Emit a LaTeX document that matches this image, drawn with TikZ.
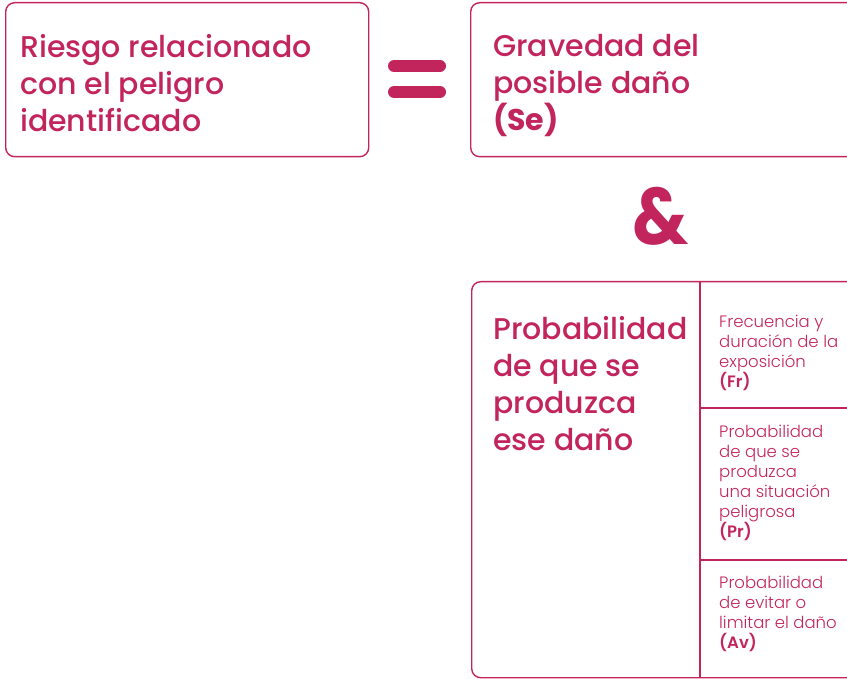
\documentclass[tikz,border=0pt]{standalone}
\usepackage{fontspec}
\setmainfont{Poppins}[UprightFont=* Medium, BoldFont=* Bold]
\newfontfamily\lightfont{Poppins}[UprightFont=* Light, BoldFont=* SemiBold]
\definecolor{crim}{HTML}{C2255C}
\tikzset{
  boxframe/.style={draw=crim, line width=1.4pt, rounded corners=9pt, inner sep=0pt, anchor=north west},
  bigtext/.style={text=crim, font=\fontsize{30}{37}\selectfont, align=left, anchor=north west, inner sep=0pt},
  smalltext/.style={text=crim, font=\lightfont\fontsize{16.5}{20}\selectfont, align=left, anchor=north west, inner sep=0pt},
  rule/.style={draw=crim, line width=1.4pt},
  bar/.style={draw=crim, line width=12pt, line cap=round}
}
\begin{document}
\begin{tikzpicture}[x=1pt,y=-1pt]
\useasboundingbox (0,0) rectangle (847,679);
\clip (0,0) rectangle (847,679);
% boxes
\node[boxframe, minimum width=363pt, minimum height=154pt] (riesgo) at (5,2) {};
\node[boxframe, minimum width=400pt, minimum height=154pt] (grav) at (470,2) {};
\node[boxframe, minimum width=400pt, minimum height=396pt] (prob) at (471,281) {};
% inner rules
\coordinate (vtop) at (700,281);
\coordinate (vbot) at (700,677);
\coordinate (h1l) at (700,408);
\coordinate (h1r) at (860,408);
\coordinate (h2l) at (700,560);
\coordinate (h2r) at (860,560);
\draw[rule] (vtop) -- (vbot);
\draw[rule] (h1l) -- (h1r);
\draw[rule] (h2l) -- (h2r);
% equals sign
\coordinate (e1a) at (394,66); \coordinate (e1b) at (440,66);
\coordinate (e2a) at (394,92); \coordinate (e2b) at (440,92);
\draw[bar] (e1a) -- (e1b);
\draw[bar] (e2a) -- (e2b);
% ampersand
\node[text=crim, font=\fontsize{80}{80}\selectfont\bfseries, inner sep=0pt, anchor=base, xscale=0.88] (amp) at (661,245) {\&};
% texts
\node[bigtext] (t1) at (20,34) {Riesgo relacionado\\con el peligro\\identificado};
\node[bigtext] (t2) at (493,34) {Gravedad del\\posible daño\\\textbf{(Se)}};
\node[bigtext] (t3) at (493,316) {Probabilidad\\de que se\\produzca\\ese daño};
\node[smalltext] (s1) at (719,315) {Frecuencia y\\duración de la\\exposición\\\textbf{(Fr)}};
\node[smalltext] (s2) at (719,425) {Probabilidad\\de que se\\produzca\\una situación\\peligrosa\\\textbf{(Pr)}};
\node[smalltext] (s3) at (719,576) {Probabilidad\\de evitar o\\limitar el daño\\\textbf{(Av)}};
\end{tikzpicture}
\end{document}
